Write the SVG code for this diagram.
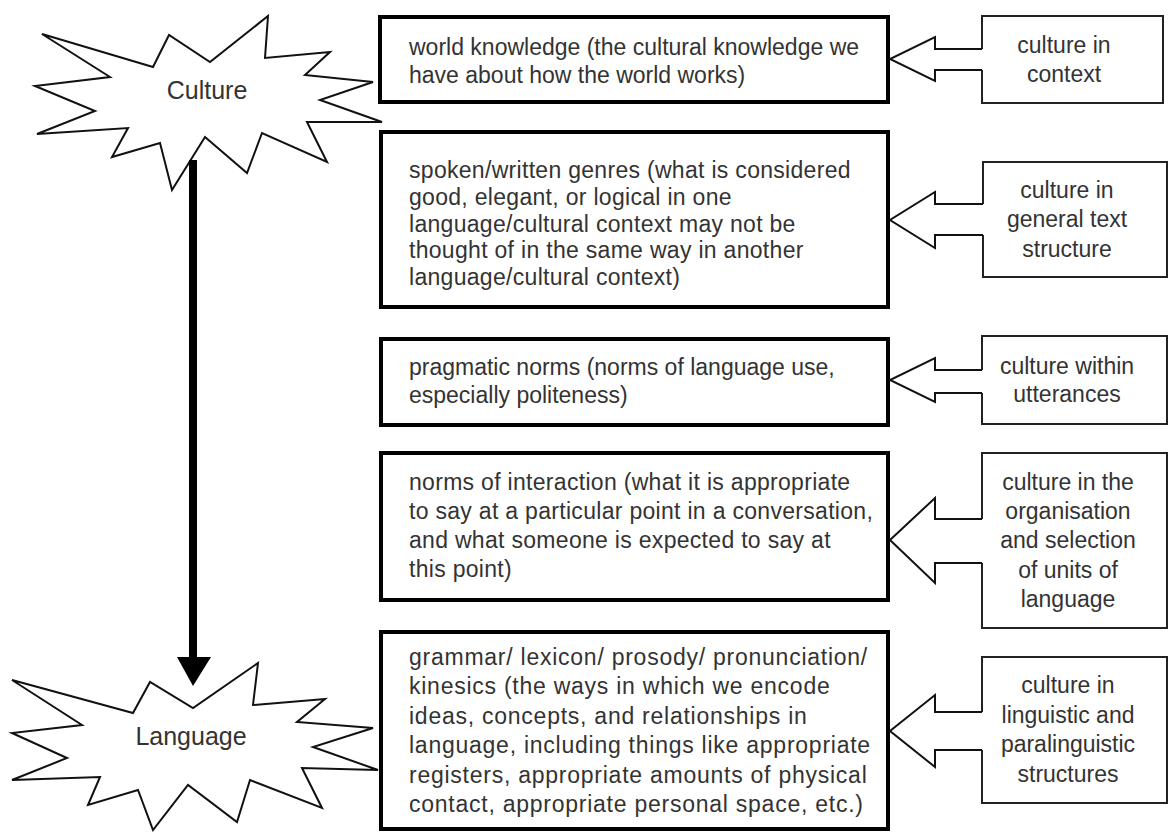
<svg xmlns="http://www.w3.org/2000/svg" width="1169" height="832" viewBox="0 0 1169 832">
<style>
  .star{fill:#fff;stroke:#111;stroke-width:2;stroke-linejoin:miter}
  .lbox{fill:#fff;stroke:#000;stroke-width:4}
  .rbox{fill:none;stroke:#222;stroke-width:2}
  .barrow{fill:none;stroke:#111;stroke-width:2;stroke-linejoin:miter}
  .t{font-family:"Liberation Sans",Arial,sans-serif;font-size:23px;fill:#333}
  .c{text-anchor:middle}
  .big{font-size:25px}
  .ls1{letter-spacing:0.3px}
  .ls2{letter-spacing:0.75px}
</style>
<rect width="1169" height="832" fill="#fff"/>

<g id="culture">
  <polygon class="star" points="42,34 110,77 35,86 95,111 37,134 128,128 112,157 160,143 172,190 205,137 247,173 262,133 327,162 307,122 382,122 320,100 373,82 305,75 330,52 265,58 268,16 210,62 169,35 153,67"/>
  <text class="t big c" x="207" y="99">Culture</text>
</g>

<g id="language">
  <polygon class="star" points="12,680 133,713 150,682 193,708 258,663 253,705 325,699 297,722 373,728 313,747 378,770 302,768 322,808 250,780 237,822 188,785 153,830 138,790 88,805 100,777 12,780 67,758 12,733 82,725"/>
  <text class="t big c" x="191" y="745">Language</text>
</g>

<g id="box-world">
  <rect class="lbox" x="380" y="17" width="508" height="85"/>
  <text class="t" x="409" y="55">world knowledge (the cultural knowledge we</text>
  <text class="t" x="409" y="83">have about how the world works)</text>
</g>

<g id="box-genres">
  <rect class="lbox" x="381" y="132" width="507" height="175"/>
  <g class="ls1">
  <text class="t" x="409" y="178">spoken/written genres (what is considered</text>
  <text class="t" x="409" y="205">good, elegant, or logical in one</text>
  <text class="t" x="409" y="232">language/cultural context may not be</text>
  <text class="t" x="409" y="258">thought of in the same way in another</text>
  <text class="t" x="409" y="285">language/cultural context)</text>
  </g>
</g>

<g id="box-pragmatic">
  <rect class="lbox" x="381" y="339" width="507" height="86"/>
  <text class="t" x="409" y="375">pragmatic norms (norms of language use,</text>
  <text class="t" x="409" y="403">especially politeness)</text>
</g>

<g id="box-interaction">
  <rect class="lbox" x="381" y="453" width="507" height="147"/>
  <g class="ls1">
  <text class="t" x="409" y="490">norms of interaction (what it is appropriate</text>
  <text class="t" x="409" y="519">to say at a particular point in a conversation,</text>
  <text class="t" x="409" y="548">and what someone is expected to say at</text>
  <text class="t" x="409" y="577">this point)</text>
  </g>
</g>

<g id="box-grammar">
  <rect class="lbox" x="381" y="632" width="507" height="197"/>
  <g class="ls2">
  <text class="t" x="409" y="665">grammar/ lexicon/ prosody/ pronunciation/</text>
  <text class="t" x="409" y="694">kinesics (the ways in which we encode</text>
  <text class="t" x="409" y="724">ideas, concepts, and relationships in</text>
  <text class="t" x="409" y="753">language, including things like appropriate</text>
  <text class="t" x="409" y="783">registers, appropriate amounts of physical</text>
  <text class="t" x="409" y="812">contact, appropriate personal space, etc.)</text>
  </g>
</g>

<g id="rbox-context">
  <path class="rbox" d="M982,49 V16 H1163 V103 H982 V70"/>
  <text class="t c" x="1064" y="53">culture in</text>
  <text class="t c" x="1064" y="82">context</text>
</g>

<g id="rbox-text-structure">
  <path class="rbox" d="M983,204 V162 H1167 V277 H983 V235"/>
  <text class="t c" x="1067" y="198">culture in</text>
  <text class="t c" x="1067" y="227">general text</text>
  <text class="t c" x="1067" y="257">structure</text>
</g>

<g id="rbox-utterances">
  <path class="rbox" d="M982,370 V336 H1167 V424 H982 V393"/>
  <text class="t c" x="1067" y="374">culture within</text>
  <text class="t c" x="1067" y="402">utterances</text>
</g>

<g id="rbox-organisation">
  <path class="rbox" d="M982,519 V453 H1167 V628 H982 V563"/>
  <text class="t c" x="1068" y="490">culture in the</text>
  <text class="t c" x="1068" y="519">organisation</text>
  <text class="t c" x="1068" y="548">and selection</text>
  <text class="t c" x="1068" y="578">of units of</text>
  <text class="t c" x="1068" y="607">language</text>
</g>

<g id="rbox-linguistic">
  <path class="rbox" d="M982,712 V657 H1167 V803 H982 V750"/>
  <text class="t c" x="1068" y="693">culture in</text>
  <text class="t c" x="1068" y="723">linguistic and</text>
  <text class="t c" x="1068" y="752">paralinguistic</text>
  <text class="t c" x="1068" y="782">structures</text>
</g>

<g id="connectors">
  <line x1="193" y1="160" x2="193" y2="660" stroke="#000" stroke-width="8"/>
  <polygon points="177,657 211,657 193,686" fill="#000"/>
  <polyline class="barrow" points="982,49 935,49 935,37 890,59 935,81 935,70 982,70"/>
  <polyline class="barrow" points="983,204 935,204 935,192 890,220 935,248 935,235 983,235"/>
  <polyline class="barrow" points="982,370 935,370 935,358 890,380 935,402 935,393 982,393"/>
  <polyline class="barrow" points="982,519 935,519 935,498 890,540 935,583 935,563 982,563"/>
  <polyline class="barrow" points="982,712 935,712 935,695 890,731 935,767 935,750 982,750"/>
</g>
</svg>
